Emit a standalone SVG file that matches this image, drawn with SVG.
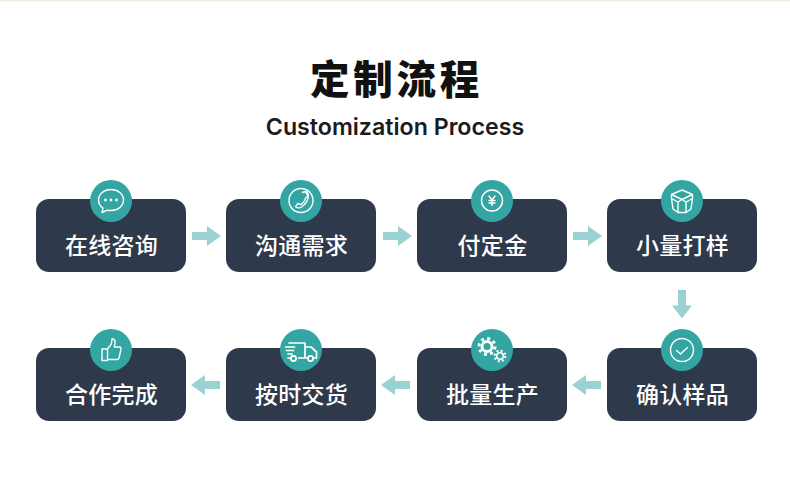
<svg xmlns="http://www.w3.org/2000/svg" width="790" height="490" viewBox="0 0 790 490">
<style>
.box{fill:#2e3a4b}
.disc{fill:#33a5a2}
.lbl{font-family:"Noto Sans CJK SC","Noto Sans",sans-serif;font-size:23px;font-weight:500;fill:#fff;text-anchor:middle;letter-spacing:.3px}
.ic{fill:none;stroke:#fff;stroke-width:1.4;stroke-linejoin:round;stroke-linecap:round}
.icf{fill:#fff}
.arr{fill:#9ad1d2}
</style>
<rect width="790" height="490" fill="#fff"/>
<rect width="790" height="1.5" fill="#f3e9df"/>
<text x="396.500" y="94" text-anchor="middle" style="font-family:'Noto Sans CJK SC',sans-serif;font-size:39.500px;font-weight:900;letter-spacing:3.800px" fill="#111">定制流程</text>
<text x="395" y="135" text-anchor="middle" style="font-family:'Inter','Noto Sans',sans-serif;font-size:23.200px;font-weight:600" fill="#1c1c1c">Customization Process</text>
<g id="connectors">
<path class="arr" d="M192 232h15v-6l14 10l-14 10v-6h-15z"/>
<path class="arr" d="M383 232h15v-6l14 10l-14 10v-6h-15z"/>
<path class="arr" d="M573 232h15v-6l14 10l-14 10v-6h-15z"/>
<path class="arr" d="M678 290h8v15.500h6l-10 13l-10-13h6z"/>
<path class="arr" d="M601 381h-15v-6l-14 10l14 10v-6h15z"/>
<path class="arr" d="M410 381h-15v-6l-14 10l14 10v-6h15z"/>
<path class="arr" d="M220 381h-15v-6l-14 10l14 10v-6h15z"/>
</g>
<g id="node-1"><rect class="box" x="36" y="199" width="150" height="73" rx="13"/><circle class="disc" cx="111" cy="201" r="21"/>
<path class="ic" d="M111 189.500c-7 0-12.500 4.700-12.500 10.500c0 3.300 1.800 6.200 4.500 8.100l-1 4.400l5.500-2.300c1.100.2 2.300.3 3.500.3c7 0 12.500-4.700 12.500-10.500s-5.500-10.500-12.500-10.500z"/>
<circle class="icf" cx="105.500" cy="200" r="1.400"/><circle class="icf" cx="111" cy="200" r="1.400"/><circle class="icf" cx="116.500" cy="200" r="1.400"/>
<text class="lbl" x="111.500" y="254">在线咨询</text></g>
<g id="node-2"><rect class="box" x="226" y="199" width="150" height="73" rx="13"/><circle class="disc" cx="301" cy="201" r="21"/>
<circle class="ic" cx="301" cy="200.500" r="12"/>
<path class="ic" d="M302.500 192.500l2.500-1.200l3.200 4.700l-2.700 2c-.4 2.500-2.300 5-4.800 6.700l-2.800-1.200l-2.300 3.200c2 1.500 4.600 1.200 6.300 0c3.300-2.300 5.700-5.700 6.400-9.500c.4-2.200-.3-4.200-1.500-5.800"/>
<text class="lbl" x="301.500" y="254">沟通需求</text></g>
<g id="node-3"><rect class="box" x="417" y="199" width="150" height="73" rx="13"/><circle class="disc" cx="492" cy="201" r="21"/>
<circle class="ic" cx="492" cy="200.500" r="10.500"/>
<path class="ic" d="M489 196l3 4l3-4M492 200v5.500M489 200.500h6M489 203h6"/>
<text class="lbl" x="492.500" y="254">付定金</text></g>
<g id="node-4"><rect class="box" x="607" y="199" width="150" height="73" rx="13"/><circle class="disc" cx="682" cy="201" r="21"/>
<path class="ic" d="M682 190l10.500 4.500v4l-1.500 10.500l-5 3.500h-8l-5-3.500l-1.500-10.500v-4zM671.500 194.500l10.500 5l10.500-5M671.500 198.500l6.500 3.500v10.500M692.500 198.500l-6.500 3.500v10.500M678 202l4-2.500l4 2.500"/>
<text class="lbl" x="682.500" y="254">小量打样</text></g>
<g id="node-5"><rect class="box" x="607" y="348" width="150" height="73" rx="13"/><circle class="disc" cx="682" cy="350" r="21"/>
<circle class="ic" cx="682" cy="350" r="11.500"/>
<path class="ic" d="M676.500 350.500l4 3.500l7-6.500"/>
<text class="lbl" x="682.500" y="403">确认样品</text></g>
<g id="node-6"><rect class="box" x="417" y="348" width="150" height="73" rx="13"/><circle class="disc" cx="492" cy="350" r="21"/>
<circle cx="487" cy="346.500" r="5" fill="none" stroke="#fff" stroke-width="2.800"/>
<circle cx="487" cy="346.500" r="8" fill="none" stroke="#fff" stroke-width="3" stroke-dasharray="3 3.280"/>
<circle cx="500" cy="356" r="3.300" fill="none" stroke="#fff" stroke-width="1.600"/>
<circle cx="500" cy="356" r="5.300" fill="none" stroke="#fff" stroke-width="2.200" stroke-dasharray="2 2.160"/>
<text class="lbl" x="492.500" y="403">批量生产</text></g>
<g id="node-7"><rect class="box" x="226" y="348" width="150" height="73" rx="13"/><circle class="disc" cx="301" cy="350" r="21"/>
<path class="ic" style="stroke-width:1.700" d="M289 343h16v15h-6.500M305 347h6l5.500 5v6h-3M305 358h2.500M288 358h2.500M285.500 347h9M286.500 350.500h7M288 354h4"/>
<circle class="ic" style="stroke-width:1.700" cx="293.500" cy="358.500" r="2.600"/><circle class="ic" style="stroke-width:1.700" cx="310.500" cy="358.500" r="2.600"/>
<text class="lbl" x="301.500" y="403">按时交货</text></g>
<g id="node-8"><rect class="box" x="36" y="348" width="150" height="73" rx="13"/><circle class="disc" cx="111" cy="350" r="21"/>
<path class="ic" d="M102 349h5.500v11.500h-5.500zM107.500 349l3.500-4.500c.8-2 1-4 1-5.500c2.500-.5 3.500 2 3 4.500l-.8 3.500h5.300c1.200 0 1.800 1 1.500 2.200l-2 8.800c-.3 1-1 1.500-2 1.500h-9.500"/>
<text class="lbl" x="111.500" y="403">合作完成</text></g>
</svg>
